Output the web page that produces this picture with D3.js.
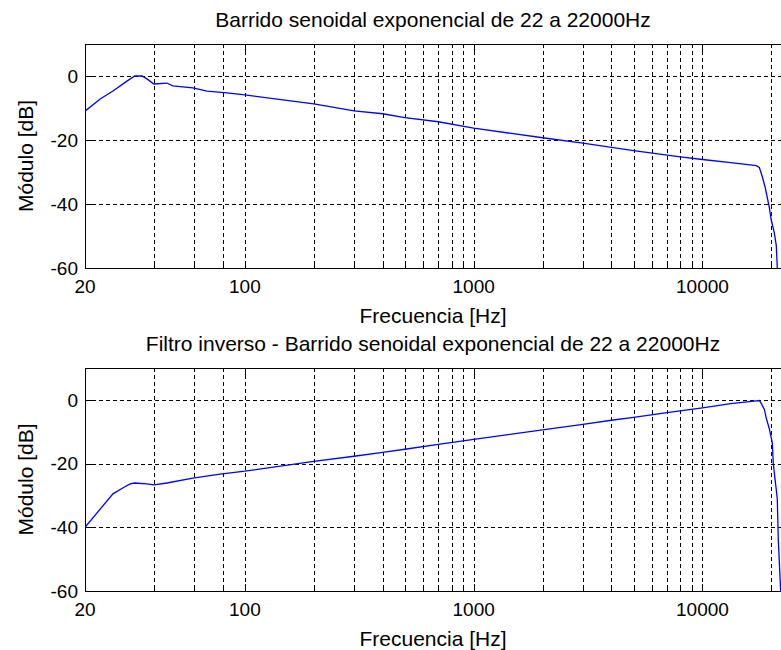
<!DOCTYPE html>
<html lang="es">
<head>
  <meta charset="UTF-8">
  <script src="https://d3js.org/d3.v7.min.js"></script>
  <title>Barrido senoidal exponencial</title>
  <style>
    body { margin: 0; background: #fff; }
    text { font-family: Arial, "Liberation Sans", sans-serif; fill: #000; }
    .grid line { stroke: #000; stroke-width: 1; stroke-dasharray: 4,3; shape-rendering: crispEdges; }
    .frame { fill: none; stroke: #000; stroke-width: 1; shape-rendering: crispEdges; }
    .tick-mark { stroke: #000; stroke-width: 1; shape-rendering: crispEdges; }
  </style>
</head>
<body>
<div id="chart"></div>
<script>
  // Sweep magnitude
  const freqSweep = [20, 23.3, 26.5, 30.5, 33, 35.5, 37.3, 40, 45.6, 48.4, 59.2, 68.3, 83.4, 100,
    200, 300, 400, 500, 700, 1000, 2000, 3000, 5000, 8000, 10000, 13300, 17200, 17730,
    18270, 18830, 19590, 19990, 20610, 21030, 21240, 21460];
  const dbSweep = [-11, -7.2, -4.7, -1.6, 0, 0, -0.9, -2.5, -2.2, -3.1, -3.7, -4.7, -5.3, -5.9,
    -8.7, -10.9, -11.8, -13, -14.3, -16.3, -19.3, -21, -23.3, -25.3, -26.1, -27.1, -28, -28.6,
    -31.5, -35, -41, -45, -49, -53, -60, -70];

  // Inverse filter magnitude
  const freqInverse = [20, 26.5, 29.5, 31.5, 33, 37.3, 40, 45.6, 59.2, 78, 100,
    200, 300, 400, 500, 700, 1000, 2000, 3000, 4000, 5000, 7000, 10000, 13300, 17200, 17730,
    18090, 18650, 19020, 19590, 20200, 20400, 21240, 21460, 21880, 22050];
  const dbInverse = [-40, -29.5, -27.5, -26.4, -26.1, -26.4, -26.7, -26.1, -24.6, -23.3, -22.4,
    -19.3, -17.7, -16.5, -15.5, -14, -12.4, -9.4, -7.7, -6.4, -5.5, -4, -2.5, -1.2, -0.3, -0.2,
    -1.2, -3, -5.8, -9, -13.5, -20, -31, -44, -57, -62];

  const titles = [
    "Barrido senoidal exponencial de 22 a 22000Hz",
    "Filtro inverso - Barrido senoidal exponencial de 22 a 22000Hz"
  ];
  const xLabelTicks = [20, 100, 1000, 10000];
  const xMinorGrid = [40, 60, 80, 200, 300, 400, 500, 600, 700, 800, 900,
    2000, 3000, 4000, 5000, 6000, 7000, 8000, 9000, 20000];
  const yTicks = [-60, -40, -20, 0];
  const xDomain = [20, 22050];
  const yDomain = [-60, 10];

  const width = 781;
  const height = 650;
  const left = 85;
  const right = 781;

  const panels = [
    { title: titles[0], freq: freqSweep, db: dbSweep, top: 44, bottom: 268 },
    { title: titles[1], freq: freqInverse, db: dbInverse, top: 368, bottom: 591 }
  ];

  const svg = d3.select("#chart")
    .append("svg")
    .attr("width", width)
    .attr("height", height);

  const x = d3.scaleLog().domain(xDomain).range([left, right]);

  panels.forEach((p, i) => {
    const y = d3.scaleLinear().domain(yDomain).range([p.bottom, p.top]);
    const g = svg.append("g");

    g.append("clipPath")
      .attr("id", "clip" + i)
      .append("rect")
      .attr("x", left)
      .attr("y", p.top)
      .attr("width", right - left)
      .attr("height", p.bottom - p.top);

    // dashed grid
    const grid = g.append("g").attr("class", "grid");
    grid.selectAll(".vg")
      .data(xLabelTicks.slice(1).concat(xMinorGrid))
      .enter()
      .append("line")
      .attr("x1", d => Math.round(x(d)) + 0.5)
      .attr("x2", d => Math.round(x(d)) + 0.5)
      .attr("y1", p.top)
      .attr("y2", p.bottom);
    grid.selectAll(".hg")
      .data(yTicks.filter(d => d > yDomain[0]))
      .enter()
      .append("line")
      .attr("x1", left)
      .attr("x2", right)
      .attr("y1", d => Math.round(y(d)) + 0.5)
      .attr("y2", d => Math.round(y(d)) + 0.5);

    // tick marks (inside)
    xLabelTicks.slice(1).forEach(d => {
      const xx = Math.round(x(d)) + 0.5;
      g.append("line").attr("class", "tick-mark")
        .attr("x1", xx).attr("x2", xx).attr("y1", p.bottom).attr("y2", p.bottom - 7);
      g.append("line").attr("class", "tick-mark")
        .attr("x1", xx).attr("x2", xx).attr("y1", p.top).attr("y2", p.top + 7);
    });
    xMinorGrid.forEach(d => {
      const xx = Math.round(x(d)) + 0.5;
      g.append("line").attr("class", "tick-mark")
        .attr("x1", xx).attr("x2", xx).attr("y1", p.bottom).attr("y2", p.bottom - 4);
      g.append("line").attr("class", "tick-mark")
        .attr("x1", xx).attr("x2", xx).attr("y1", p.top).attr("y2", p.top + 4);
    });
    yTicks.forEach(d => {
      const yy = Math.round(y(d)) + 0.5;
      g.append("line").attr("class", "tick-mark")
        .attr("x1", left).attr("x2", left + 7).attr("y1", yy).attr("y2", yy);
    });

    // frame
    g.append("rect")
      .attr("class", "frame")
      .attr("x", left + 0.5)
      .attr("y", p.top + 0.5)
      .attr("width", right - left)
      .attr("height", p.bottom - p.top);

    // curve
    const line = d3.line()
      .x(d => x(d[0]))
      .y(d => y(d[1]));
    g.append("path")
      .datum(p.freq.map((f, k) => [f, p.db[k]]))
      .attr("clip-path", `url(#clip${i})`)
      .attr("fill", "none")
      .attr("stroke", "#0000ff")
      .attr("stroke-width", 1.3)
      .attr("d", line);

    // tick labels
    g.selectAll(".yl")
      .data(yTicks)
      .enter()
      .append("text")
      .attr("x", left - 7)
      .attr("y", d => y(d))
      .attr("dy", "0.36em")
      .attr("text-anchor", "end")
      .style("font-size", "19px")
      .text(d => d);
    g.selectAll(".xl")
      .data(xLabelTicks)
      .enter()
      .append("text")
      .attr("x", d => x(d))
      .attr("y", p.bottom + 25)
      .attr("text-anchor", "middle")
      .style("font-size", "19px")
      .text(d => d);

    // axis labels and title
    g.append("text")
      .attr("x", (left + right) / 2)
      .attr("y", p.bottom + 55)
      .attr("text-anchor", "middle")
      .style("font-size", "21px")
      .text("Frecuencia [Hz]");
    g.append("text")
      .attr("transform", `translate(33, ${(p.top + p.bottom) / 2}) rotate(-90)`)
      .attr("text-anchor", "middle")
      .style("font-size", "21px")
      .text("Módulo [dB]");
    g.append("text")
      .attr("x", (left + right) / 2)
      .attr("y", p.top - 17)
      .attr("text-anchor", "middle")
      .style("font-size", "21px")
      .text(p.title);
  });
</script>
</body>
</html>
